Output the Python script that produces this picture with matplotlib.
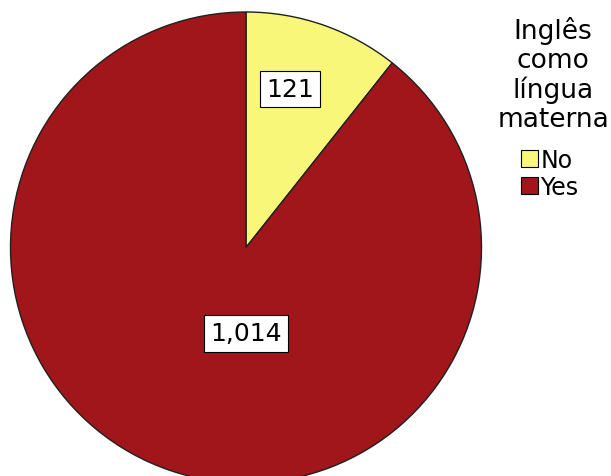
import matplotlib.pyplot as plt
from matplotlib.patches import Patch

# Data
categories = ['No', 'Yes']
counts = [121, 1014]
value_labels = ['121', '1,014']
colors = ['#F8F77A', '#A0161A']
legend_title = 'Inglês\ncomo\nlíngua\nmaterna'

W, H = 611, 477
fig = plt.figure(figsize=(W / 100, H / 100), dpi=100)
# pie axes placed so the circle runs slightly past the bottom edge
ax = fig.add_axes([10.5 / W, -7 / H, 471 / W, 471 / H])

wedges, _ = ax.pie(counts, colors=colors, startangle=90, counterclock=False,
                   wedgeprops=dict(edgecolor='#202020', linewidth=1.0))
ax.set_xlim(-1, 1)
ax.set_ylim(-1, 1)
ax.set_aspect('equal')

# value boxes
label_pos = [(0.187, 0.673), (0.0, -0.365)]
for txt, (x, y) in zip(value_labels, label_pos):
    ax.text(x, y, txt, ha='center', va='center', fontsize=18, family='DejaVu Sans',
            bbox=dict(boxstyle='square,pad=0.25', facecolor='white',
                      edgecolor='black', linewidth=0.8))

# legend title
fig.text(553 / W, 1 - 17 / H, legend_title, ha='center', va='top',
         fontsize=19, linespacing=1.14, multialignment='center')

handles = [Patch(facecolor=c, edgecolor='black', linewidth=0.8) for c in colors]
leg = fig.legend(handles, categories, loc='upper left',
                 bbox_to_anchor=(521 / W, 1 - 149 / H), frameon=False,
                 fontsize=17, handlelength=0.72, handleheight=0.72,
                 handletextpad=0.1, labelspacing=0.12, borderpad=0,
                 borderaxespad=0)

fig.savefig('out.png', dpi=100)
